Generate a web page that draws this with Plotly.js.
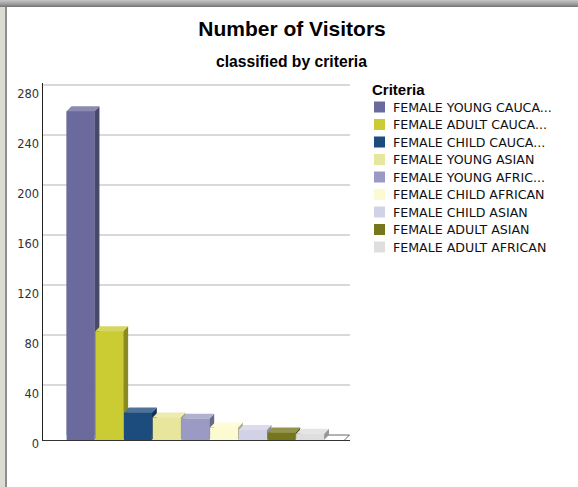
<!DOCTYPE html>
<html><head><meta charset="utf-8">
<script src="https://cdn.plot.ly/plotly-3.0.1.min.js"></script>
<style>
html,body{margin:0;padding:0;background:#fff;}
#wrap{position:relative;width:578px;height:487px;overflow:hidden;background:#fff;}
#chart{position:absolute;left:0;top:0;width:578px;height:487px;}
#topbar{position:absolute;left:0;top:0;width:578px;height:7px;background:linear-gradient(#c6c6c6,#9c9c9c 60%,#727272);pointer-events:none;}
#leftbar{position:absolute;left:0;top:0;width:5px;height:487px;background:#dcdcd4;border-right:2px solid #8e8e8e;pointer-events:none;}
</style></head><body>
<div id="wrap"><div id="chart"></div><div id="leftbar"></div><div id="topbar"></div></div>
<script>
// ---- data ----
const categories = [
  'FEMALE YOUNG CAUCA...',
  'FEMALE ADULT CAUCA...',
  'FEMALE CHILD CAUCA...',
  'FEMALE YOUNG ASIAN',
  'FEMALE YOUNG AFRIC...',
  'FEMALE CHILD AFRICAN',
  'FEMALE CHILD ASIAN',
  'FEMALE ADULT ASIAN',
  'FEMALE ADULT AFRICAN'
];
const visitors = [263, 87, 22, 18, 17, 10, 8, 6, 5];
const colors = ['#6a6a9c', '#cbcb33', '#1c4b7d', '#e8e59c', '#9a9ac4', '#fcfad0', '#d2d2e6', '#76761c', '#dedede'];
const yTicks = [0, 40, 80, 120, 160, 200, 240, 280];
const titleText = 'Number of Visitors';
const subtitleText = 'classified by criteria';
const legendTitle = 'Criteria';

// ---- helpers ----
function hexToRgb(h){h=h.replace('#','');return [parseInt(h.substr(0,2),16),parseInt(h.substr(2,2),16),parseInt(h.substr(4,2),16)];}
function shade(h,f){const c=hexToRgb(h).map(v=>Math.max(0,Math.min(255,Math.round(v*f))));return 'rgb('+c.join(',')+')';}
function tint(h,f){const c=hexToRgb(h).map(v=>Math.round(v+(255-v)*f));return 'rgb('+c.join(',')+')';}

const W = 578, H = 487;
const M = {l:43, r:8, t:83, b:47};
const pw = W - M.l - M.r;
const xDomEnd = (350 - M.l) / pw;
const half = 0.487, dx = 0.17, dy = 4;
const xr0 = -1.31, xr1 = 9.39;

const traces = [];
// dummy trace to activate yaxis2 gridlines
traces.push({type:'scatter', mode:'lines', x:[xr0], y:[0], yaxis:'y2', hoverinfo:'skip', showlegend:false, line:{width:0}});
// floor
const fx0 = xr0, fx1 = 9.2;
traces.push({type:'scatter', mode:'lines', x:[fx0, fx1, fx1+dx, fx0+dx, fx0], y:[0,0,dy,dy,0],
  fill:'toself', fillcolor:'#ffffff', line:{width:0}, hoverinfo:'skip', showlegend:false});
traces.push({type:'scatter', mode:'lines', x:[fx1-0.6, fx1+dx, fx1], y:[dy, dy, 0],
  line:{color:'#666', width:1}, hoverinfo:'skip', showlegend:false});
// bars (front faces)
traces.push({type:'bar', x:categories.map((c,i)=>i), y:visitors, width:0.975,
  marker:{color:colors, line:{width:0}}, hovertext:categories, hoverinfo:'text+y', showlegend:false});
// 3D faces
visitors.forEach((v,i)=>{
  const xl = i - half, xr = i + half;
  traces.push({type:'scatter', mode:'lines', x:[xr, xr+dx, xr+dx, xr, xr], y:[0, dy, v+dy, v, 0],
    fill:'toself', fillcolor:shade(colors[i],0.68), line:{width:0}, hoverinfo:'skip', showlegend:false});
  traces.push({type:'scatter', mode:'lines', x:[xl, xr, xr+dx, xl+dx, xl], y:[v, v, v+dy, v+dy, v],
    fill:'toself', fillcolor:tint(colors[i],0.22), line:{width:0}, hoverinfo:'skip', showlegend:false});
  traces.push({type:'scatter', mode:'lines', x:[xl, xr, xr, xl, xl], y:[0, 0, v, v, 0],
    fill:'toself', fillcolor:colors[i], line:{width:0}, hoverinfo:'skip', showlegend:false});
});
// legend swatches (pixel-mapped axes)
const legY = categories.map((c,i)=>107 + 17.5*i);
traces.push({type:'scatter', mode:'markers', xaxis:'x2', yaxis:'y3',
  x:categories.map(()=>379.5), y:legY,
  marker:{symbol:'square', size:11, color:colors, line:{width:0}}, hoverinfo:'skip', showlegend:false});

const annotations = [];
categories.forEach((c,i)=>{
  annotations.push({xref:'x2', yref:'y3', x:391, y:legY[i], xanchor:'left', yanchor:'middle',
    text:c, showarrow:false, font:{family:'DejaVu Sans, Verdana, sans-serif', size:12.6, color:'#111'}});
});
annotations.push({xref:'x2', yref:'y3', x:370, y:89, xanchor:'left', yanchor:'middle',
  text:'<b>'+legendTitle+'</b>', showarrow:false, font:{family:'Liberation Sans, Arial, sans-serif', size:15, color:'#000'}});
annotations.push({xref:'paper', yref:'paper', x:(291-M.l)/pw, y:(H-M.b-61)/(H-M.t-M.b), xanchor:'center', yanchor:'middle',
  text:'<b>'+subtitleText+'</b>', showarrow:false, font:{family:'Liberation Sans, Arial, sans-serif', size:15.7, color:'#000'}});

const layout = {
  width:W, height:H, margin:M, paper_bgcolor:'#fff', plot_bgcolor:'rgba(0,0,0,0)',
  showlegend:false,
  title:{text:'<b>'+titleText+'</b>', font:{family:'Liberation Sans, Arial, sans-serif', size:21, color:'#000'},
    x:292/W, xref:'container', xanchor:'center', y:1-29/H, yref:'container', yanchor:'middle'},
  xaxis:{domain:[0,xDomEnd], range:[xr0,xr1], showline:true, linecolor:'#333', linewidth:1,
    showticklabels:false, ticks:'', showgrid:false, zeroline:false, fixedrange:true},
  yaxis:{domain:[0,1], range:[0,285.6], tickvals:yTicks, ticks:'', showline:true, linecolor:'#222', linewidth:1.5,
    showgrid:false, zeroline:false, ticklabelshift:4,
    tickfont:{family:'DejaVu Sans, Verdana, sans-serif', size:11.5, color:'#333'}, fixedrange:true},
  yaxis2:{overlaying:'y', anchor:'x', range:[-dy, 285.6-dy], tickvals:yTicks.slice(1), showticklabels:false,
    showgrid:true, gridcolor:'#d9d9d9', gridwidth:1.5, zeroline:false, showline:false, ticks:'', fixedrange:true},
  xaxis2:{domain:[(360-M.l)/pw,1], anchor:'y3', range:[360,570], visible:false, fixedrange:true},
  yaxis3:{domain:[0,1], anchor:'x2', range:[H-M.b, M.t], visible:false, fixedrange:true},
  annotations:annotations
};

Plotly.newPlot('chart', traces, layout, {displayModeBar:false, staticPlot:true});
</script>
</body></html>
